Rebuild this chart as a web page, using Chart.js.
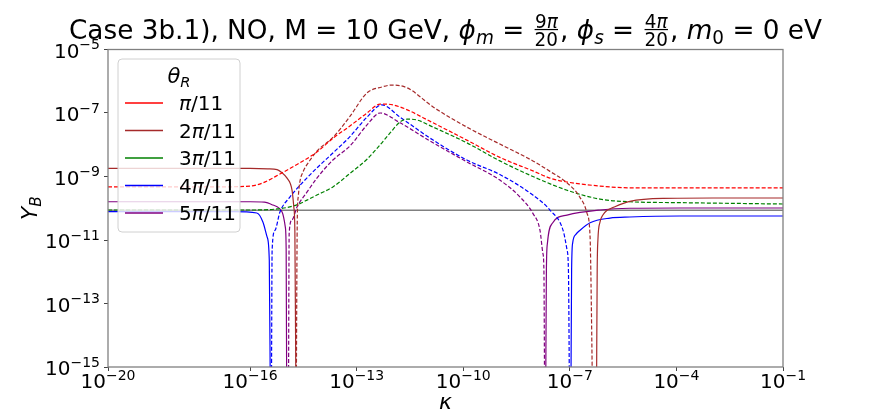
<!DOCTYPE html>
<html>
<head>
<meta charset="utf-8">
<script src="https://cdn.jsdelivr.net/npm/chart.js@4.4.1/dist/chart.umd.min.js"></script>
<style>
  html, body { margin: 0; padding: 0; background: #fff; }
  #wrap { width: 872px; height: 414px; }
</style>
</head>
<body>
<div id="wrap"><canvas id="chart" width="872" height="414"></canvas></div>
<script>
// Values. K arrays are log10(kappa), Y arrays are |Y_B|.
const xTickExp = [-20, -16, -13, -10, -7, -4, -1];
const yTickExp = [-15, -13, -11, -9, -7, -5];

const thetaLabels = ['π/11', '2π/11', '3π/11', '4π/11', '5π/11'];
const thetaColors = ['#ff0000', '#a52a2a', '#008000', '#0000ff', '#800080'];

const yObserved = 8.6e-11;

// theta = pi/11 (dashed only)
const redDashK = [-20, -17, -16, -15.64, -15.16, -14.68, -14.12, -13.67, -13.19, -12.71, -12.34, -12.15, -11.78, -10.85, -9.90, -8.97, -8.04, -7.56, -7.08, -6.15, -5.31, -3.90, -1];
const redDashY = [4.7e-10, 4.7e-10, 5.0e-10, 6.3e-10, 1.2e-9, 2.4e-9, 5.9e-9, 1.6e-8, 3.9e-8, 1.0e-7, 1.9e-7, 1.9e-7, 1.55e-7, 4.9e-8, 1.4e-8, 4.0e-9, 1.5e-9, 8.9e-10, 6.7e-10, 5.0e-10, 4.4e-10, 4.4e-10, 4.4e-10];

// theta = 2pi/11
const brownLeftK = [-20, -16, -15.5, -15.24, -15.10, -14.96, -14.82, -14.77, -14.74, -14.71];
const brownLeftY = [1.8e-9, 1.8e-9, 1.75e-9, 1.65e-9, 1.3e-9, 8.9e-10, 3.7e-10, 1.1e-10, 2.0e-11, 1e-16];
const brownDashK = [-14.70, -14.68, -14.67, -14.64, -14.60, -14.51, -14.31, -14.12, -13.67, -13.19, -12.71, -12.29, -12.01, -11.58, -10.85, -9.90, -8.97, -8.04, -7.56, -7.08, -6.72, -6.52, -6.43, -6.41, -6.36];
const brownDashY = [1e-16, 4.9e-12, 6.1e-11, 2.6e-10, 6.7e-10, 1.4e-9, 3.3e-9, 6.3e-9, 1.7e-8, 7.8e-8, 4.3e-7, 6.6e-7, 7.6e-7, 6.2e-7, 1.55e-7, 3.6e-8, 1.05e-8, 3.1e-9, 1.45e-9, 6.3e-10, 2.25e-10, 7.1e-11, 1.23e-11, 1.15e-12, 1e-16];
const brownRightK = [-6.25, -6.23, -6.21, -6.15, -6.07, -5.96, -5.79, -5.31, -4.38, -2.97, -1];
const brownRightY = [1e-16, 1.15e-12, 1.0e-11, 3.7e-11, 6.1e-11, 8.5e-11, 1.05e-10, 1.65e-10, 2.05e-10, 2.1e-10, 2.1e-10];

// theta = 3pi/11 (dashed only)
const greenDashK = [-20, -16, -15.24, -14.79, -14.60, -14.40, -14.12, -13.67, -13.19, -12.71, -12.34, -12.06, -11.78, -11.58, -11.30, -10.85, -9.90, -8.97, -8.04, -7.08, -6.15, -5.31, -3.90, -1];
const greenDashY = [8.8e-11, 8.8e-11, 9.5e-11, 1.17e-10, 1.4e-10, 1.8e-10, 2.6e-10, 4.7e-10, 1.25e-9, 3.5e-9, 1.0e-8, 2.35e-8, 5.2e-8, 6.4e-8, 6.0e-8, 3.6e-8, 1.15e-8, 3.1e-9, 1.0e-9, 3.7e-10, 1.94e-10, 1.6e-10, 1.5e-10, 1.36e-10];

// theta = 4pi/11
const blueLeftK = [-20, -16.5, -15.81, -15.64, -15.52, -15.46, -15.43];
const blueLeftY = [7.8e-11, 7.8e-11, 7.1e-11, 3.7e-11, 1.23e-11, 2.3e-12, 1e-16];
const blueDashK = [-15.40, -15.38, -15.30, -15.16, -14.88, -14.51, -14.12, -13.67, -13.19, -12.71, -12.29, -11.78, -10.85, -9.90, -8.97, -8.04, -7.56, -7.19, -7.08, -7.04, -7.01];
const blueDashY = [1e-16, 4.9e-12, 2.0e-11, 7.6e-11, 2.25e-10, 6.7e-10, 1.86e-9, 5.5e-9, 1.8e-8, 7.4e-8, 1.8e-7, 7.4e-8, 1.4e-8, 3.3e-9, 1.15e-9, 2.6e-10, 8.8e-11, 2.0e-11, 4.9e-12, 1.15e-12, 1e-16];
const blueRightK = [-6.97, -6.95, -6.92, -6.83, -6.72, -6.43, -5.87, -5.31, -3.90, -1];
const blueRightY = [1e-16, 1.15e-12, 8.1e-12, 1.5e-11, 2.0e-11, 3.5e-11, 4.9e-11, 5.3e-11, 5.7e-11, 5.7e-11];

// theta = 5pi/11
const purpleLeftK = [-20, -16, -15.60, -15.36, -15.10, -15.01, -14.985, -14.97];
const purpleLeftY = [1.6e-10, 1.6e-10, 1.55e-10, 1.26e-10, 7.6e-11, 2.6e-11, 4.9e-12, 1e-16];
const purpleDashK = [-14.92, -14.90, -14.82, -14.68, -14.40, -14.12, -13.67, -13.19, -12.71, -12.34, -11.78, -10.85, -9.90, -8.97, -8.40, -8.04, -7.84, -7.76, -7.73, -7.71];
const purpleDashY = [1e-16, 1.65e-11, 4.3e-11, 1.1e-10, 3.2e-10, 8.9e-10, 3.3e-9, 9.1e-9, 4.2e-8, 1.0e-7, 4.9e-8, 1.15e-8, 2.9e-9, 7.7e-10, 2.25e-10, 6.9e-11, 2.0e-11, 3.9e-12, 1.15e-12, 1e-16];
const purpleRightK = [-7.68, -7.66, -7.63, -7.48, -7.08, -6.15, -5.31, -3.90, -1];
const purpleRightY = [1e-16, 1.15e-12, 8.1e-12, 3.5e-11, 6.1e-11, 8.8e-11, 1.0e-10, 1.02e-10, 1.02e-10];

const FONT = '"DejaVu Sans"';

const datasets = [];
function addSeg(theta, kArr, yArr, dashed) {
    datasets.push({
        label: thetaLabels[theta],
        data: kArr.map((k, i) => ({ x: Math.pow(10, k), y: yArr[i] })),
        borderColor: thetaColors[theta],
        borderWidth: 1.2,
        borderDash: dashed ? [4, 2] : [],
        pointRadius: 0,
        cubicInterpolationMode: 'monotone',
        fill: false,
    });
}

addSeg(0, redDashK, redDashY, true);
addSeg(1, brownLeftK, brownLeftY, false);
addSeg(1, brownDashK, brownDashY, true);
addSeg(1, brownRightK, brownRightY, false);
addSeg(2, greenDashK, greenDashY, true);
addSeg(3, blueLeftK, blueLeftY, false);
addSeg(3, blueDashK, blueDashY, true);
addSeg(3, blueRightK, blueRightY, false);
addSeg(4, purpleLeftK, purpleLeftY, false);
addSeg(4, purpleDashK, purpleDashY, true);
addSeg(4, purpleRightK, purpleRightY, false);

// observed value, drawn underneath everything
datasets.push({
    label: 'observed',
    data: [{ x: Math.pow(10, xTickExp[0]), y: yObserved }, { x: Math.pow(10, xTickExp[xTickExp.length - 1]), y: yObserved }],
    borderColor: '#808080',
    borderWidth: 1.5,
    pointRadius: 0,
    fill: false,
});

function font(size, italic) {
    return (italic ? 'italic ' : '') + size + 'px ' + FONT;
}

// 10^exp label, like matplotlib's mathtext
function drawPow(ctx, exp, x, y, align, size) {
    const base = '10';
    const sup = (exp < 0 ? '\u2212' : '') + Math.abs(exp);
    ctx.font = font(size);
    const wb = ctx.measureText(base).width;
    ctx.font = font(size * 0.7);
    const ws = ctx.measureText(sup).width;
    const left = align === 'center' ? x - (wb + ws) / 2 : x - (wb + ws);
    ctx.font = font(size);
    ctx.fillText(base, left, y);
    ctx.font = font(size * 0.7);
    ctx.fillText(sup, left + wb, y - size * 0.42);
}

// rich text: [text, style] with r roman, i italic, si sub italic, sr sub roman, f fraction "num|den"
function fracPiece(ctx, t, size) {
    // numerator may hold an italic pi
    const pieces = [];
    t.split(/(π)/).filter((s) => s.length).forEach((s) => pieces.push([s, s === 'π']));
    let w = 0;
    pieces.forEach(([s, it]) => { ctx.font = font(size, it); w += ctx.measureText(s).width; });
    return { pieces, w };
}

function richWidth(ctx, parts, size) {
    let w = 0;
    parts.forEach(([t, st]) => {
        if (st === 'f') {
            const [n, d] = t.split('|');
            const fs = size * 0.7;
            w += Math.max(fracPiece(ctx, n, fs).w, fracPiece(ctx, d, fs).w) + size * 0.16;
        } else {
            const sub = st[0] === 's';
            ctx.font = font(sub ? size * 0.7 : size, st.indexOf('i') >= 0);
            w += ctx.measureText(t).width;
        }
    });
    return w;
}

function drawPieces(ctx, fp, x, y, size) {
    let cx = x;
    fp.pieces.forEach(([s, it]) => {
        ctx.font = font(size, it);
        ctx.fillText(s, cx, y);
        cx += ctx.measureText(s).width;
    });
}

function drawRich(ctx, parts, x, y, size) {
    let cx = x;
    parts.forEach(([t, st]) => {
        if (st === 'f') {
            const [n, d] = t.split('|');
            const fs = size * 0.7;
            const fn = fracPiece(ctx, n, fs);
            const fd = fracPiece(ctx, d, fs);
            const w = Math.max(fn.w, fd.w);
            const pad = size * 0.08;
            const bar = y - size * 0.35;
            ctx.fillRect(cx + pad, bar - 0.6, w, 1.2);
            drawPieces(ctx, fn, cx + pad + (w - fn.w) / 2, bar - size * 0.06, fs);
            drawPieces(ctx, fd, cx + pad + (w - fd.w) / 2, bar + size * 0.08 + fs * 0.73, fs);
            cx += w + 2 * pad;
        } else {
            const sub = st[0] === 's';
            ctx.font = font(sub ? size * 0.7 : size, st.indexOf('i') >= 0);
            ctx.fillText(t, cx, sub ? y + size * 0.2 : y);
            cx += ctx.measureText(t).width;
        }
    });
}

const titleParts = [
    ['Case 3b.1), NO, M = 10 GeV, ', 'r'], ['ϕ', 'i'], ['m', 'si'], [' = ', 'r'], ['9π|20', 'f'],
    [', ', 'r'], ['ϕ', 'i'], ['s', 'si'], [' = ', 'r'], ['4π|20', 'f'],
    [', ', 'r'], ['m', 'i'], ['0', 'sr'], [' = 0 eV', 'r'],
];

function legendParts(label) {
    const p = label.split('π');
    return [[p[0], 'r'], ['π', 'i'], [p[1], 'r']];
}

const decor = {
    id: 'decor',
    afterDraw(chart) {
        const { ctx, chartArea: a, scales } = chart;
        ctx.save();

        // frame
        ctx.strokeStyle = '#808080';
        ctx.lineWidth = 1.3;
        ctx.strokeRect(a.left, a.top, a.right - a.left, a.bottom - a.top);

        // tick labels
        ctx.fillStyle = '#000';
        ctx.textBaseline = 'alphabetic';
        xTickExp.forEach((e) => drawPow(ctx, e, scales.x.getPixelForValue(Math.pow(10, e)), a.bottom + 21, 'center', 20));
        yTickExp.forEach((e) => drawPow(ctx, e, a.left - 8, scales.y.getPixelForValue(Math.pow(10, e)) + 8, 'right', 20));

        // axis titles
        ctx.save();
        ctx.translate(37, (a.top + a.bottom) / 2);
        ctx.rotate(-Math.PI / 2);
        const yl = [['Y', 'i'], ['B', 'si']];
        drawRich(ctx, yl, -richWidth(ctx, yl, 22) / 2, 0, 22);
        ctx.restore();
        const xl = [['κ', 'i']];
        drawRich(ctx, xl, (a.left + a.right) / 2 - richWidth(ctx, xl, 22) / 2, 409, 22);

        // plot title, squeezed to the width it has in the figure
        const tw = richWidth(ctx, titleParts, 27);
        const target = 753;
        ctx.save();
        ctx.translate((a.left + a.right) / 2 - target / 2, 39);
        ctx.scale(target / tw, 1);
        drawRich(ctx, titleParts, 0, 0, 27);
        ctx.restore();

        // legend
        const lx = 118, ly = 59, lw = 122, lh = 173;
        ctx.beginPath();
        ctx.roundRect(lx, ly, lw, lh, 4);
        ctx.fillStyle = 'rgba(255,255,255,0.8)';
        ctx.fill();
        ctx.strokeStyle = '#d0d0d0';
        ctx.lineWidth = 1;
        ctx.stroke();
        ctx.fillStyle = '#000';
        const lt = [['θ', 'i'], ['R', 'si']];
        drawRich(ctx, lt, lx + lw / 2 - richWidth(ctx, lt, 21) / 2, 83, 21);
        thetaLabels.forEach((lab, i) => {
            const ry = 103 + i * 27.5;
            ctx.strokeStyle = thetaColors[i];
            ctx.lineWidth = 1.5;
            ctx.setLineDash([]);
            ctx.beginPath();
            ctx.moveTo(125, ry);
            ctx.lineTo(163, ry);
            ctx.stroke();
            ctx.fillStyle = '#000';
            drawRich(ctx, legendParts(lab), 179, ry + 7, 20);
        });

        ctx.restore();
    },
};

new Chart(document.getElementById('chart'), {
    type: 'scatter',
    data: { datasets },
    options: {
        responsive: false,
        animation: false,
        showLine: true,
        devicePixelRatio: 1,
        layout: { padding: { left: 0, right: 89, top: 49.5, bottom: 0 } },
        plugins: { legend: { display: false }, tooltip: { enabled: false }, title: { display: false } },
        scales: {
            x: {
                type: 'logarithmic',
                min: Math.pow(10, xTickExp[0]),
                max: Math.pow(10, xTickExp[xTickExp.length - 1]),
                afterBuildTicks: (s) => { s.ticks = xTickExp.map((e) => ({ value: Math.pow(10, e) })); },
                afterFit: (s) => { s.height = 47; },
                ticks: { display: false },
                grid: { drawOnChartArea: false, drawTicks: true, tickLength: 4, color: '#444' },
                border: { display: false },
            },
            y: {
                type: 'logarithmic',
                min: Math.pow(10, yTickExp[0]),
                max: Math.pow(10, yTickExp[yTickExp.length - 1]),
                afterBuildTicks: (s) => { s.ticks = yTickExp.map((e) => ({ value: Math.pow(10, e) })); },
                afterFit: (s) => { s.width = 108; },
                ticks: { display: false },
                grid: { drawOnChartArea: false, drawTicks: true, tickLength: 4, color: '#444' },
                border: { display: false },
            },
        },
    },
    plugins: [decor],
});
</script>
</body>
</html>
